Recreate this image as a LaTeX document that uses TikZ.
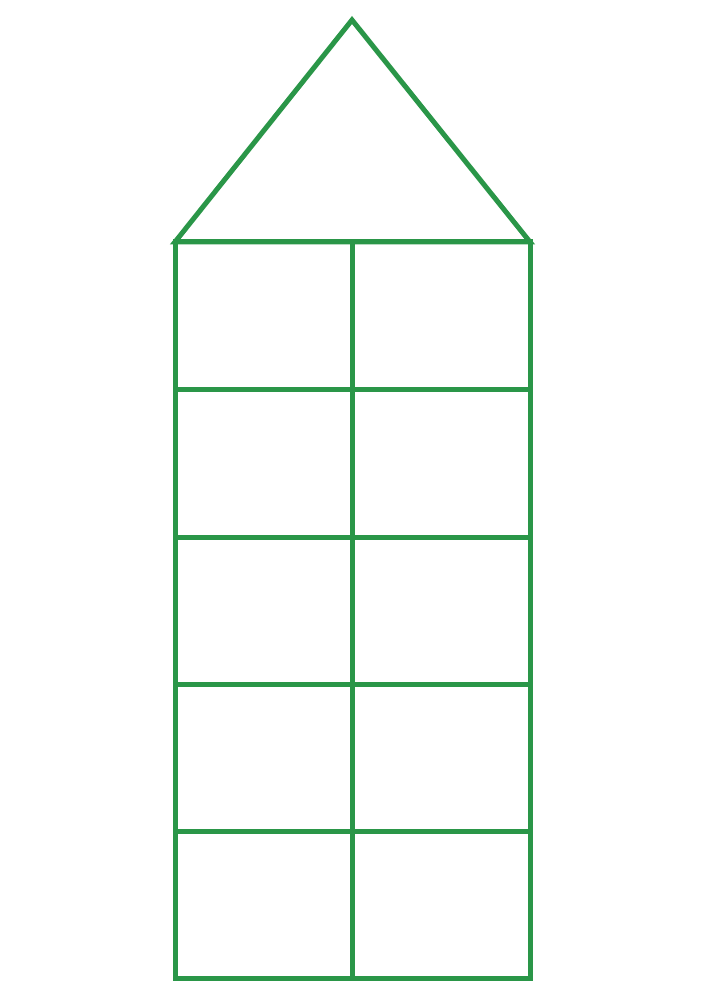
\documentclass[tikz,border=0pt]{standalone}
\usepackage{tikz}
\usetikzlibrary{calc}
\definecolor{housegreen}{RGB}{42,150,72}
\newcommand{\housecell}[4]{ \draw[housegreen, line width=0.05cm] ( #1 , #2 ) rectangle ( #3 , #4 );}

\begin{document}
\begin{tikzpicture}
        \useasboundingbox (0,0) rectangle (7.08,10);
        % row1
        \housecell{1.75}{0.21}{3.52}{1.68}
        \housecell{3.52}{0.21}{5.30}{1.68}
        % row2
        \housecell{1.75}{1.68}{3.52}{3.15}
        \housecell{3.52}{1.68}{5.30}{3.15}
        % row3
        \housecell{1.75}{3.15}{3.52}{4.62}
        \housecell{3.52}{3.15}{5.30}{4.62}
        % row4
        \housecell{1.75}{4.62}{3.52}{6.10}
        \housecell{3.52}{4.62}{5.30}{6.10}
        % row5
        \housecell{1.75}{6.10}{3.52}{7.58}
        \housecell{3.52}{6.10}{5.30}{7.58}
        % roof
        \draw[housegreen, line width=0.05cm, line join=miter] (1.75,7.58) -- (3.52,9.80) -- (5.30,7.58) -- cycle;
    \end{tikzpicture}
\end{document}
